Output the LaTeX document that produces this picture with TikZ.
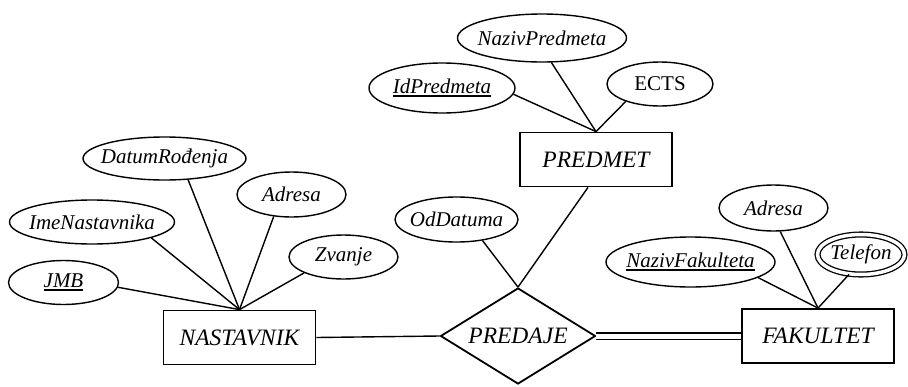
\documentclass[tikz,border=0pt]{standalone}
\usepackage{fontspec}
\setmainfont{Liberation Serif}
\usetikzlibrary{shapes.geometric}

% key attribute: text with a heavy underline
\newcommand\keyattr[1]{\setbox0\hbox{#1}\rlap{\rule[-3.6pt]{\wd0}{1.8pt}}\box0}
\newcommand\entfont{\fontsize{23.5}{27}\selectfont\itshape}
\newcommand\attrfont{\fontsize{21}{25}\selectfont\itshape}

\tikzset{
  entity/.style={draw, line width=1.8pt, rectangle, inner sep=0pt,
    minimum width=152pt, minimum height=54pt, font=\entfont},
  relship/.style={draw, line width=1.8pt, diamond, inner sep=0pt,
    minimum width=155pt, minimum height=96pt},
  attr/.style n args={3}{draw, ellipse, line width=1.4pt, inner sep=0pt,
    minimum width=#1pt, minimum height=#2pt,
    label={[font=\attrfont, inner sep=0pt]center:{#3}}},
  link/.style={line width=1.4pt},
  dbllink/.style={line width=1.3pt, double, double distance=5pt}
}

\begin{document}
\begin{tikzpicture}[x=1pt, y=-1pt]
  \useasboundingbox (0,0) rectangle (908,386);

  % entities and relationship
  \node[entity] (nast) at (239.5,337.5) {NASTAVNIK};
  \node[entity] (pred) at (596,159.5) {PREDMET};
  \node[entity] (fak) at (818,336) {FAKULTET};
  \node[relship, label={[font=\entfont, inner sep=0pt]center:PREDAJE}] (rel) at (518,336) {};

  % attributes of NASTAVNIK
  \node[attr={110}{44}{\keyattr{JMB}}] (jmb) at (63.5,282.5) {};
  \node[attr={165}{44}{ImeNastavnika}] (ime) at (92,222) {};
  \node[attr={163}{43}{DatumRođenja}] (datum) at (164.5,158.5) {};
  \node[attr={109}{45}{Adresa}] (adrn) at (291.5,194.5) {};
  \node[attr={109}{44}{Zvanje}] (zvanje) at (343.5,257) {};

  % attributes of PREDMET
  \node[attr={169}{48}{NazivPredmeta}] (naziv) at (542,38) {};
  \node[attr={146}{50}{\keyattr{IdPredmeta}}] (idp) at (442,88) {};
  \node[attr={106}{44}{\upshape ECTS}] (ects) at (660,84) {};

  % attribute of PREDAJE
  \node[attr={123}{45}{OdDatuma}] (oddat) at (456.5,219.5) {};

  % attributes of FAKULTET
  \node[attr={109}{46}{Adresa}] (adrf) at (773.5,208) {};
  \node[attr={169}{50}{\keyattr{NazivFakulteta}}] (nfak) at (690.5,262) {};
  \node[attr={87}{40}{Telefon}, double, double distance=3.5pt, line width=1.3pt] (tel) at (861,254.5) {};

  % attribute links
  \draw[link] (jmb.-5) -- (nast.north);
  \draw[link] (ime.-15) -- (nast.north);
  \draw[link] (datum.-42) -- (nast.north);
  \draw[link] (adrn.-129) -- (nast.north);
  \draw[link] (zvanje.-158) -- (nast.north);

  \draw[link] (naziv.-69) -- (pred.north);
  \draw[link] (idp.-5) -- (pred.north);
  \draw[link] (ects.-153) -- (pred.north);

  \draw[link] (oddat.-39) -- (rel.north);

  \draw[link] (adrf.-74) -- (fak.north);
  \draw[link] (nfak.-13) -- (fak.north);
  \draw[link] (tel.-121) -- (fak.north);

  % relationship links
  \draw[link] (nast.east) -- (rel.west);
  \draw[link] ([xshift=-8pt]pred.south) -- (rel.north);
  \draw[dbllink] (rel.east) -- (fak.west);
\end{tikzpicture}
\end{document}
